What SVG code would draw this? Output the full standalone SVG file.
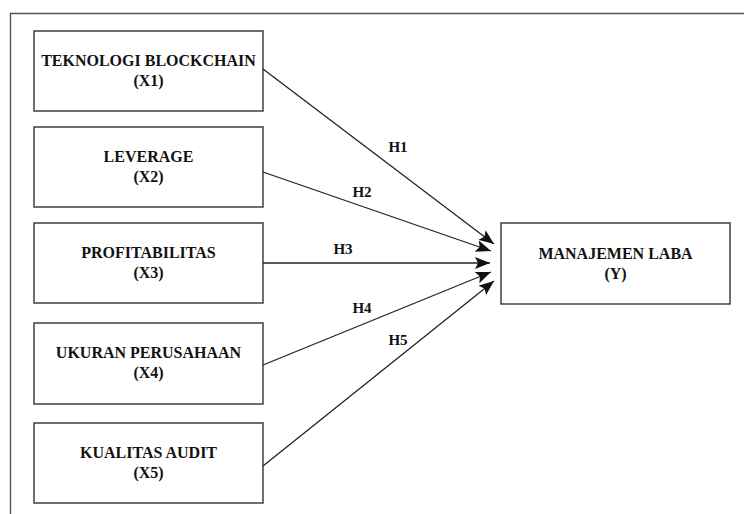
<svg xmlns="http://www.w3.org/2000/svg" width="744" height="514" viewBox="0 0 744 514">
<style>
.box{fill:#fff;stroke:#333;stroke-width:1.4}
.t{font-family:"Liberation Serif","Times New Roman",serif;font-weight:bold;font-size:16px;fill:#111;text-anchor:middle}
.h{font-family:"Liberation Serif","Times New Roman",serif;font-weight:bold;font-size:15px;fill:#111;text-anchor:middle}
.c{stroke:#222;stroke-width:1.3;fill:none;marker-end:url(#ah)}
</style>
<defs>
<marker id="ah" markerUnits="userSpaceOnUse" markerWidth="16" markerHeight="12" refX="15" refY="6" orient="auto">
<path d="M0,0 L15,6 L0,12 L3,6 z" fill="#111"/>
</marker>
</defs>
<rect width="744" height="514" fill="#fff"/>
<path d="M10.5,514 V13.5 H744" fill="none" stroke="#555" stroke-width="1.4"/>
<g id="x1"><rect class="box" x="34" y="31" width="229" height="80"/><text class="t" x="148.5" y="66">TEKNOLOGI BLOCKCHAIN</text><text class="t" x="148.5" y="86">(X1)</text></g>
<g id="x2"><rect class="box" x="34" y="127" width="229" height="80"/><text class="t" x="148.5" y="162">LEVERAGE</text><text class="t" x="148.5" y="182">(X2)</text></g>
<g id="x3"><rect class="box" x="34" y="223" width="229" height="80"/><text class="t" x="148.5" y="258">PROFITABILITAS</text><text class="t" x="148.5" y="278">(X3)</text></g>
<g id="x4"><rect class="box" x="34" y="323" width="229" height="81"/><text class="t" x="148.5" y="358">UKURAN PERUSAHAAN</text><text class="t" x="148.5" y="378">(X4)</text></g>
<g id="x5"><rect class="box" x="34" y="423" width="229" height="80"/><text class="t" x="148.5" y="458">KUALITAS AUDIT</text><text class="t" x="148.5" y="478">(X5)</text></g>
<g id="y"><rect class="box" x="501" y="223" width="229" height="81"/><text class="t" x="615.5" y="259">MANAJEMEN LABA</text><text class="t" x="615.5" y="279">(Y)</text></g>
<g id="connectors">
<line class="c" x1="263" y1="69" x2="494" y2="244"/>
<line class="c" x1="263" y1="172" x2="491" y2="251"/>
<line class="c" x1="263" y1="263" x2="490" y2="263"/>
<line class="c" x1="263" y1="365" x2="491" y2="272"/>
<line class="c" x1="263" y1="466" x2="494" y2="281"/>
<text class="h" x="398" y="152">H1</text>
<text class="h" x="362" y="197">H2</text>
<text class="h" x="343" y="254">H3</text>
<text class="h" x="362" y="313">H4</text>
<text class="h" x="398" y="345">H5</text>
</g>
</svg>
